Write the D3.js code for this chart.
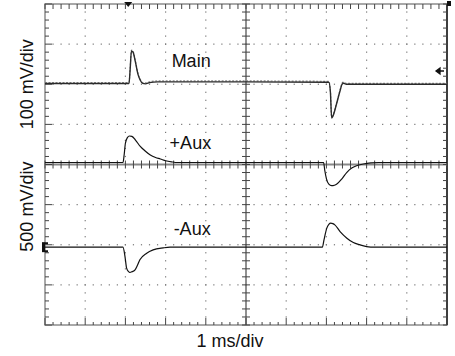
<!DOCTYPE html>
<html lang="en">
  <head>
    <meta charset="UTF-8" />
    <script src="https://d3js.org/d3.v7.min.js"></script>
    <title>Scope traces</title>
    <style>
      body { margin: 0; background: #fff; }
      text { font-family: "Liberation Sans", Arial, Helvetica, sans-serif; fill: #111; }
    </style>
  </head>
  <body>
    <svg id="scope" width="455" height="356"></svg>
    <script>
      // time in ms, amplitude in mV (relative to channel ground)
      const mainT  = [0, 2.09, 2.12, 2.15, 2.19, 2.25, 2.31, 2.37, 2.43, 2.5, 2.6, 2.8, 5, 7.06, 7.1, 7.13, 7.16, 7.25, 7.33, 7.41, 7.5, 10];
      const mainMv = [2, 2, 40, 83, 80, 55, 26, 10, 2, 1, 4, 6, 6, 5, -20, -84, -80, -50, -20, 3, 0, 0];

      const posAuxT  = [0, 1.94, 1.97, 2.0, 2.05, 2.1, 2.16, 2.25, 2.37, 2.5, 2.62, 2.75, 2.87, 3.0, 3.15, 3.3, 6.93, 6.96, 7.0, 7.06, 7.13, 7.2, 7.26, 7.38, 7.51, 7.63, 7.75, 7.92, 8.1, 8.3, 10];
      const posAuxMv = [0, 0, 100, 240, 310, 330, 325, 280, 200, 140, 93, 62, 44, 22, 8, 0, 0, -100, -200, -270, -289, -283, -268, -206, -122, -69, -40, -19, -5, 0, 0];

      const negAuxT  = [0, 1.94, 1.99, 2.03, 2.08, 2.11, 2.17, 2.24, 2.3, 2.36, 2.53, 2.69, 2.94, 3.11, 6.9, 6.94, 7.01, 7.06, 7.11, 7.16, 7.21, 7.34, 7.51, 7.67, 7.84, 8.0, 8.2, 10];
      const negAuxMv = [0, 0, -117, -262, -305, -316, -305, -283, -225, -158, -75, -34, -9, 0, 0, 91, 237, 285, 299, 293, 278, 194, 112, 57, 29, 7, 0, 0];

      const channelNames = ["Main", "+Aux", "-Aux"];
      const mvPerDiv = [100, 500, 500];
      const groundDiv = [2, 0.05, -2.06];
      const labelPos = [[3.15, 2.44], [3.1, 0.38], [3.2, -1.76]]; // [ms, div]

      const svg = d3.select("#scope");
      const x = d3.scaleLinear().domain([0, 10]).range([45, 447]);
      const y = d3.scaleLinear().domain([-4, 4]).range([325, 4]);

      const minorX = d3.range(0, 10.001, 0.2);
      const minorY = d3.range(-4, 4.001, 0.2);
      const isMajor = (v) => Math.abs(v - Math.round(v)) < 1e-6;

      // dotted graticule: dots at minor spacing along each major line
      const dots = svg.append("g").attr("fill", "#777");
      d3.range(1, 10).filter((k) => k !== 5).forEach((k) => {
        dots.selectAll(null).data(minorY.slice(1, -1)).enter().append("rect")
          .attr("x", x(k) - 0.6).attr("y", (d) => y(d) - 0.6)
          .attr("width", 1.2).attr("height", 1.2);
      });
      d3.range(-3, 4).filter((k) => k !== 0).forEach((k) => {
        dots.selectAll(null).data(minorX.slice(1, -1)).enter().append("rect")
          .attr("x", (d) => x(d) - 0.6).attr("y", y(k) - 0.6)
          .attr("width", 1.2).attr("height", 1.2);
      });

      // frame
      svg.append("rect")
        .attr("x", x(0)).attr("y", y(4))
        .attr("width", x(10) - x(0)).attr("height", y(-4) - y(4))
        .attr("fill", "none").attr("stroke", "#8c8c8c").attr("stroke-width", 1.5);
      svg.append("line")
        .attr("x1", x(10)).attr("x2", x(10)).attr("y1", y(4)).attr("y2", y(-4))
        .attr("stroke", "#222").attr("stroke-width", 1.6);

      // center cross
      svg.append("line")
        .attr("x1", x(0)).attr("x2", x(10)).attr("y1", y(0)).attr("y2", y(0))
        .attr("stroke", "#888").attr("stroke-width", 2);
      svg.append("line")
        .attr("x1", x(5)).attr("x2", x(5)).attr("y1", y(4)).attr("y2", y(-4))
        .attr("stroke", "#555").attr("stroke-width", 1.3);

      const ticks = svg.append("g").attr("stroke", "#444").attr("stroke-width", 1);
      // top / bottom frame ticks
      ticks.selectAll(null).data(minorX).enter().append("line")
        .attr("x1", (d) => x(d)).attr("x2", (d) => x(d))
        .attr("y1", y(4)).attr("y2", y(4) + 5);
      ticks.selectAll(null).data(minorX).enter().append("line")
        .attr("x1", (d) => x(d)).attr("x2", (d) => x(d))
        .attr("y1", y(-4)).attr("y2", (d) => y(-4) - (isMajor(d) ? 7 : 3));
      // left / right frame ticks
      ticks.selectAll(null).data(minorY).enter().append("line")
        .attr("y1", (d) => y(d)).attr("y2", (d) => y(d))
        .attr("x1", x(0)).attr("x2", (d) => x(0) + (isMajor(d) ? 7 : 4));
      ticks.selectAll(null).data(minorY).enter().append("line")
        .attr("y1", (d) => y(d)).attr("y2", (d) => y(d))
        .attr("x1", x(10)).attr("x2", x(10) - 4);
      // center ticks
      ticks.selectAll(null).data(minorX).enter().append("line")
        .attr("x1", (d) => x(d)).attr("x2", (d) => x(d))
        .attr("y1", y(0) - 4).attr("y2", y(0) + 4);
      ticks.selectAll(null).data(minorY).enter().append("line")
        .attr("y1", (d) => y(d)).attr("y2", (d) => y(d))
        .attr("x1", x(5) - 4).attr("x2", x(5) + 4);

      // traces
      const traces = [
        { t: mainT, v: mainMv },
        { t: posAuxT, v: posAuxMv },
        { t: negAuxT, v: negAuxMv },
      ];
      const line = d3.line().curve(d3.curveMonotoneX);
      traces.forEach((tr, i) => {
        const pts = tr.t.map((t, j) => [x(t), y(groundDiv[i] + tr.v[j] / mvPerDiv[i])]);
        if (i === 0) {
          // noisy look of the Main trace: speckled gray band under the line
          svg.append("path")
            .attr("d", line(pts))
            .attr("transform", "translate(0,-0.9)")
            .attr("fill", "none").attr("stroke", "#888")
            .attr("stroke-width", 1.2).attr("stroke-dasharray", "2,1.5");
        }
        svg.append("path")
          .attr("d", line(pts))
          .attr("fill", "none")
          .attr("stroke", i === 0 ? "#2a2a2a" : "#111")
          .attr("stroke-width", i === 0 ? 1.4 : 1.2);
      });

      // channel labels
      channelNames.forEach((name, i) => {
        svg.append("text")
          .attr("x", x(labelPos[i][0])).attr("y", y(labelPos[i][1]))
          .style("font-size", "18px")
          .text(name);
      });

      // axis titles
      svg.append("text")
        .attr("transform", `translate(33,${y(2)}) rotate(-90)`)
        .attr("text-anchor", "middle").style("font-size", "18px")
        .text("100 mV/div");
      svg.append("text")
        .attr("transform", `translate(33,${y(-1.05)}) rotate(-90)`)
        .attr("text-anchor", "middle").style("font-size", "18px")
        .text("500 mV/div");
      svg.append("text")
        .attr("x", x(4.6)).attr("y", 347)
        .attr("text-anchor", "middle").style("font-size", "18px")
        .text("1 ms/div");

      // scope markers
      const trig = x(2.07);
      svg.append("path")
        .attr("d", `M${trig - 4},${y(4) - 2}L${trig + 4},${y(4) - 2}L${trig},${y(4) + 3}Z`)
        .attr("fill", "#111");
      svg.append("rect").attr("x", x(10)).attr("y", 1).attr("width", 4).attr("height", 5).attr("fill", "#111");
      const ay = y(2.33);
      svg.append("path")
        .attr("d", `M${x(10) - 3},${ay}L${x(10) - 11},${ay}M${x(10) - 11},${ay}l4,-3v6z`)
        .attr("stroke", "#111").attr("stroke-width", 1.3).attr("fill", "#111");
      const gy = y(groundDiv[2]);
      svg.append("rect")
        .attr("x", x(0) - 3).attr("y", gy - 5).attr("width", 3).attr("height", 10)
        .attr("fill", "#111");
      svg.append("path")
        .attr("d", `M${x(0)},${gy - 4}h3M${x(0)},${gy + 4}h3`)
        .attr("stroke", "#111").attr("stroke-width", 2);
    </script>
  </body>
</html>
